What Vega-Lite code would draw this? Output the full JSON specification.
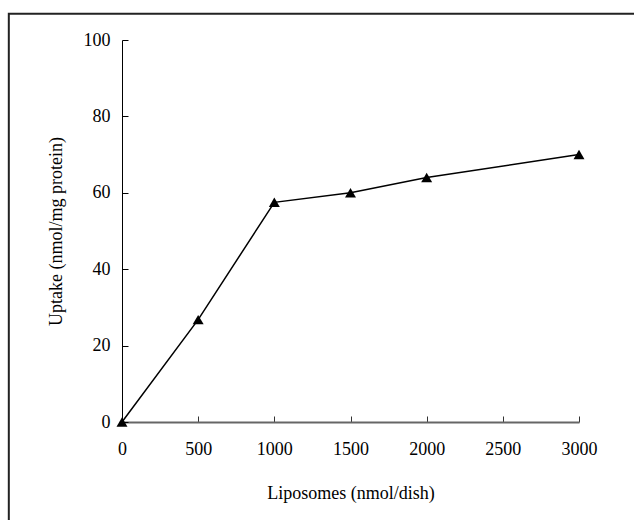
{
  "$schema": "https://vega.github.io/schema/vega-lite/v6.json",
  "autosize": "none",
  "width": 457,
  "height": 382,
  "padding": {"left": 122, "top": 40, "right": 55, "bottom": 98},
  "background": "white",
  "config": {
    "view": {"stroke": null},
    "font": "Liberation Serif",
    "axis": {"labelFont": "Liberation Serif", "titleFont": "Liberation Serif", "labelFontSize": 18, "titleFontSize": 18, "titleFontWeight": "normal", "labelColor": "black", "titleColor": "black", "grid": false}
  },
  "resolve": {"axis": {"x": "independent", "y": "independent"}},
  "layer": [
    {
      "data": {"values": [{"fx1": -743, "fx2": 3500, "fy1": 106.9, "fy2": -30}]},
      "mark": {"type": "rect", "fill": null, "stroke": "#222", "strokeWidth": 2, "clip": false},
      "encoding": {
        "x": {"field": "fx1", "type": "quantitative", "scale": {"domain": [0, 3000], "nice": false},
          "axis": {"orient": "bottom", "offset": -6, "domain": false, "labels": false, "title": null, "ticks": true, "tickSize": 6, "tickColor": "#333", "values": [0, 500, 1000, 1500, 2000, 2500, 3000]}},
        "x2": {"field": "fx2"},
        "y": {"field": "fy1", "type": "quantitative", "scale": {"domain": [0, 100], "nice": false},
          "axis": {"orient": "left", "offset": -6, "domain": false, "labels": false, "title": null, "ticks": true, "tickSize": 6, "tickColor": "black", "values": [0, 20, 40, 60, 80, 100]}},
        "y2": {"field": "fy2"}
      }
    },
    {
      "data": {"values": [
        {"liposomes": 0, "uptake": 0},
        {"liposomes": 500, "uptake": 26.8},
        {"liposomes": 1000, "uptake": 57.5},
        {"liposomes": 1500, "uptake": 60},
        {"liposomes": 2000, "uptake": 64},
        {"liposomes": 3000, "uptake": 70}
      ]},
      "mark": {"type": "line", "color": "black", "strokeWidth": 1.5, "clip": false, "point": {"shape": "triangle-up", "filled": true, "color": "black", "size": 120}},
      "encoding": {
        "x": {"field": "liposomes", "type": "quantitative", "scale": {"domain": [0, 3000], "nice": false},
          "axis": {"orient": "bottom", "title": "Liposomes (nmol/dish)", "format": "d", "values": [0, 500, 1000, 1500, 2000, 2500, 3000], "ticks": false, "domainColor": "#666", "domainWidth": 2, "labelPadding": 18, "titlePadding": 26, "labelFlush": false}},
        "y": {"field": "uptake", "type": "quantitative", "scale": {"domain": [0, 100], "nice": false},
          "axis": {"orient": "left", "title": "Uptake (nmol/mg protein)", "format": "d", "values": [0, 20, 40, 60, 80, 100], "ticks": false, "domainColor": "black", "domainWidth": 1, "labelPadding": 12, "titlePadding": 18, "labelFlush": false}}
      }
    }
  ]
}
